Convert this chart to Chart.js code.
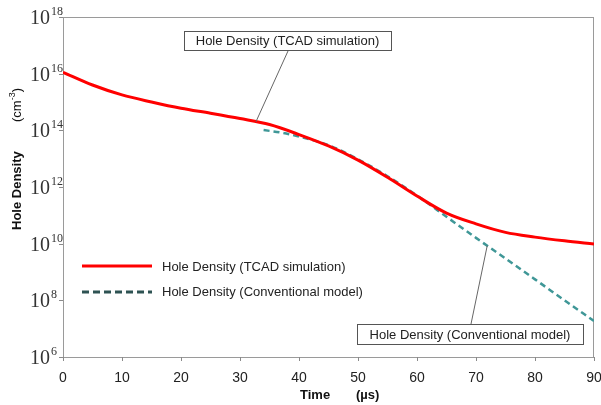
<!DOCTYPE html>
<html>
<head>
<meta charset="utf-8">
<script src="https://cdn.jsdelivr.net/npm/chart.js"></script>
<style>
  html, body { margin: 0; padding: 0; background: #fff; }
</style>
</head>
<body>
<canvas id="chart" width="601" height="405"></canvas>
<script>
// x axis ticks (us) and y axis ticks (cm^-3)
const timeTicks = [0, 10, 20, 30, 40, 50, 60, 70, 80, 90];
const densityTicks = [1e6, 1e8, 1e10, 1e12, 1e14, 1e16, 1e18];

// Hole Density (TCAD simulation)
const tcadTime = [0, 5, 10, 15, 20, 25, 30, 35, 40, 45, 50, 55, 60, 65, 70, 75, 80, 85, 90];
const tcadDensity = [1.12e16, 3.98e15, 1.78e15, 1.0e15, 6.0e14, 4.0e14, 2.6e14, 1.6e14, 7.1e13,
  2.8e13, 8.9e12, 2.2e12, 4.8e11, 1.2e11, 5.0e10, 2.5e10, 1.7e10, 1.26e10, 9.8e9];

// Hole Density (Conventional model)
const convTime = [34, 37, 40, 45, 50, 55, 60, 65, 70, 75, 80, 85, 90];
const convDensity = [1.02e14, 8.3e13, 6.0e13, 3.0e13, 9.5e12, 2.4e12, 5.0e11, 8.9e10, 1.6e10, 3.0e9,
  5.5e8, 1.0e8, 1.86e7];

const seriesNames = ['Hole Density (TCAD simulation)', 'Hole Density (Conventional model)'];

const toPoints = (xs, ys) => xs.map((x, i) => ({ x: x, y: ys[i] }));

// log-linear lookup along a series, used to anchor callout leaders
function densityAt(xs, ys, t) {
  for (let i = 0; i < xs.length - 1; i++) {
    if (t >= xs[i] && t <= xs[i + 1]) {
      const f = (t - xs[i]) / (xs[i + 1] - xs[i]);
      return Math.pow(10, Math.log10(ys[i]) + f * (Math.log10(ys[i + 1]) - Math.log10(ys[i])));
    }
  }
  return ys[ys.length - 1];
}

const SANS = '"Liberation Sans", Arial, sans-serif';
const SERIF = '"Liberation Serif", "Times New Roman", serif';

const decorations = {
  id: 'decorations',
  beforeDatasetsDraw(chart) {
    const { ctx, chartArea: a } = chart;
    ctx.save();
    ctx.strokeStyle = '#9a9a9a';
    ctx.lineWidth = 1;
    ctx.strokeRect(a.left + 0.5, a.top + 0.5, a.right - a.left - 1, a.bottom - a.top);
    ctx.restore();
  },
  afterDraw(chart) {
    const { ctx, chartArea: a } = chart;
    const xs = chart.scales.x, ys = chart.scales.y;
    ctx.save();

    // tick marks
    ctx.strokeStyle = '#8a8a8a';
    ctx.lineWidth = 1;
    ctx.beginPath();
    timeTicks.forEach(t => {
      const px = Math.round(xs.getPixelForValue(t)) + 0.5;
      ctx.moveTo(px, a.bottom);
      ctx.lineTo(px, a.bottom + 4);
    });
    densityTicks.forEach(v => {
      const py = Math.round(ys.getPixelForValue(v)) + 0.5;
      ctx.moveTo(a.left - 4, py);
      ctx.lineTo(a.left, py);
    });
    ctx.stroke();

    // x tick labels
    ctx.fillStyle = '#222';
    ctx.font = '14px ' + SANS;
    ctx.textAlign = 'center';
    ctx.textBaseline = 'middle';
    timeTicks.forEach(t => ctx.fillText(String(t), xs.getPixelForValue(t), a.bottom + 21));

    // y tick labels: 10 with superscript exponent
    ctx.fillStyle = '#333';
    densityTicks.forEach(v => {
      const py = ys.getPixelForValue(v);
      const exp = String(Math.round(Math.log10(v)));
      ctx.textBaseline = 'alphabetic';
      ctx.font = '20px ' + SERIF;
      ctx.textAlign = 'right';
      ctx.fillText('10', a.left - 13, py + 7);
      ctx.font = '12px ' + SERIF;
      ctx.textAlign = 'left';
      ctx.fillText(exp, a.left - 12, py - 2);
    });

    // x title
    ctx.fillStyle = '#111';
    ctx.font = 'bold 13px ' + SANS;
    ctx.textBaseline = 'middle';
    ctx.textAlign = 'left';
    ctx.fillText('Time', 300, a.bottom + 38);
    ctx.fillText('(\u00b5s)', 356, a.bottom + 38);

    // y title
    ctx.save();
    ctx.translate(17, 230);
    ctx.rotate(-Math.PI / 2);
    ctx.font = 'bold 13px ' + SANS;
    ctx.fillText('Hole Density', 0, 0);
    ctx.font = '13px ' + SANS;
    ctx.fillText('(cm', 108, 0);
    let w = ctx.measureText('(cm').width;
    ctx.font = '9px ' + SANS;
    ctx.fillText('-3', 108 + w, -4);
    w += ctx.measureText('-3').width;
    ctx.font = '13px ' + SANS;
    ctx.fillText(')', 108 + w, 0);
    ctx.restore();

    // legend
    const lx = 82, ly = [266, 292];
    ctx.lineWidth = 3;
    ctx.strokeStyle = '#ff0000';
    ctx.setLineDash([]);
    ctx.beginPath(); ctx.moveTo(lx, ly[0]); ctx.lineTo(lx + 70, ly[0]); ctx.stroke();
    ctx.strokeStyle = '#2e5353';
    ctx.setLineDash([7, 4]);
    ctx.beginPath(); ctx.moveTo(lx, ly[1]); ctx.lineTo(lx + 70, ly[1]); ctx.stroke();
    ctx.setLineDash([]);
    ctx.fillStyle = '#222';
    ctx.font = '13px ' + SANS;
    ctx.textAlign = 'left';
    ctx.textBaseline = 'middle';
    ctx.fillText(seriesNames[0], 162, ly[0] + 1);
    ctx.fillText(seriesNames[1], 162, ly[1]);

    // callouts
    const callout = (text, box, tipT, tipV) => {
      const tx = xs.getPixelForValue(tipT), ty = ys.getPixelForValue(tipV);
      ctx.strokeStyle = '#666';
      ctx.lineWidth = 1;
      ctx.beginPath(); ctx.moveTo(box.ax, box.ay); ctx.lineTo(tx, ty); ctx.stroke();
      ctx.fillStyle = '#fff';
      ctx.fillRect(box.x, box.y, box.w, box.h);
      ctx.strokeStyle = '#555';
      ctx.strokeRect(box.x + 0.5, box.y + 0.5, box.w, box.h);
      ctx.fillStyle = '#222';
      ctx.font = '13px ' + SANS;
      ctx.textAlign = 'center';
      ctx.textBaseline = 'middle';
      ctx.fillText(text, box.x + box.w / 2, box.y + box.h / 2 + 1);
    };
    callout(seriesNames[0], { x: 184, y: 31, w: 207, h: 19, ax: 288, ay: 51 },
      32.7, densityAt(tcadTime, tcadDensity, 32.7));
    callout(seriesNames[1], { x: 357, y: 324, w: 226, h: 20, ax: 471, ay: 324 },
      71.9, densityAt(convTime, convDensity, 71.9));

    ctx.restore();
  }
};

new Chart(document.getElementById('chart'), {
  type: 'line',
  data: {
    datasets: [
      {
        label: seriesNames[0],
        data: toPoints(tcadTime, tcadDensity),
        borderColor: '#ff0000',
        borderWidth: 3,
        pointRadius: 0,
        cubicInterpolationMode: 'monotone',
        fill: false,
        order: 1
      },
      {
        label: seriesNames[1],
        data: toPoints(convTime, convDensity),
        borderColor: '#3f9797',
        borderWidth: 2.5,
        borderDash: [6, 4],
        pointRadius: 0,
        cubicInterpolationMode: 'monotone',
        fill: false,
        order: 2
      }
    ]
  },
  options: {
    responsive: false,
    animation: false,
    layout: { padding: { left: 63, right: 7, top: 17, bottom: 48 } },
    plugins: { legend: { display: false }, tooltip: { enabled: false } },
    scales: {
      x: { type: 'linear', min: 0, max: 90, display: false },
      y: { type: 'logarithmic', min: 1e6, max: 1e18, display: false }
    }
  },
  plugins: [decorations]
});
</script>
</body>
</html>
